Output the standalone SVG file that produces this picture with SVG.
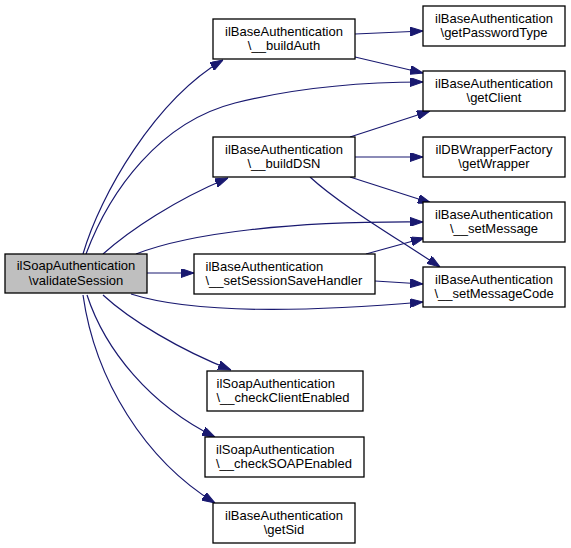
<svg xmlns="http://www.w3.org/2000/svg" width="571" height="548" viewBox="0 0 571 548">
<style>
.box{fill:#ffffff;stroke:#000000;stroke-width:1.3}
.main{fill:#bfbfbf;stroke:#000000;stroke-width:1.3}
.t{font-family:"Liberation Sans",Arial,sans-serif;font-size:13px;fill:#000000}
.c{text-anchor:middle}
.e{fill:none;stroke:#191970;stroke-width:1.2;marker-end:url(#ah)}
</style>
<defs>
<marker id="ah" markerUnits="userSpaceOnUse" markerWidth="13" markerHeight="9" viewBox="0 0 13 9" refX="13" refY="4.5" orient="auto">
<path d="M0,0 L13,4.5 L0,9 z" fill="#191970" stroke="#191970" stroke-width="1"/>
</marker>
</defs>
<rect width="571" height="548" fill="#ffffff"/>
<g id="connectors">
<path class="e" d="M83,254 C100,195 155,100 223,60"/>
<path class="e" d="M86,254 C110,190 160,122 235,103 C295,88 360,82 423,82"/>
<path class="e" d="M103,254 C130,230 175,200 228,178"/>
<path class="e" d="M136,254 C190,233 290,221 423,222"/>
<path class="e" d="M147,273 L194,273"/>
<path class="e" d="M131,294 C200,316 330,310 423,302"/>
<path class="e" d="M103,295 C130,320 180,350 231,370"/>
<path class="e" d="M87,295 C105,350 150,405 215,437"/>
<path class="e" d="M83,295 C95,380 145,460 215,503"/>
<path class="e" d="M355,34 L423,31"/>
<path class="e" d="M355,57 L423,73"/>
<path class="e" d="M350,137 L430,111"/>
<path class="e" d="M355,157 L423,157"/>
<path class="e" d="M350,177 L431,203"/>
<path class="e" d="M310,177 C340,205 400,240 440,267"/>
<path class="e" d="M366,254 L424,238"/>
<path class="e" d="M375,281 L423,284"/>
</g>
<g id="validateSession">
<rect class="main" x="5" y="254" width="142" height="39"/>
<text class="t c"><tspan x="76" y="270">ilSoapAuthentication</tspan><tspan x="76" y="284.5">\validateSession</tspan></text>
</g>
<g id="buildAuth">
<rect class="box" x="213" y="19" width="142" height="40"/>
<text class="t c"><tspan x="284" y="35.5">ilBaseAuthentication</tspan><tspan x="284" y="50">\__buildAuth</tspan></text>
</g>
<g id="getPasswordType">
<rect class="box" x="423" y="6" width="142" height="40"/>
<text class="t c"><tspan x="494" y="22.5">ilBaseAuthentication</tspan><tspan x="494" y="37">\getPasswordType</tspan></text>
</g>
<g id="getClient">
<rect class="box" x="423" y="71" width="142" height="40"/>
<text class="t c"><tspan x="494" y="87.5">ilBaseAuthentication</tspan><tspan x="494" y="102">\getClient</tspan></text>
</g>
<g id="buildDSN">
<rect class="box" x="213" y="137" width="142" height="40"/>
<text class="t c"><tspan x="284" y="153.5">ilBaseAuthentication</tspan><tspan x="284" y="168">\__buildDSN</tspan></text>
</g>
<g id="getWrapper">
<rect class="box" x="423" y="137" width="142" height="40"/>
<text class="t c"><tspan x="494" y="153.5">ilDBWrapperFactory</tspan><tspan x="494" y="168">\getWrapper</tspan></text>
</g>
<g id="setMessage">
<rect class="box" x="423" y="202" width="142" height="40"/>
<text class="t c"><tspan x="494" y="218.5">ilBaseAuthentication</tspan><tspan x="494" y="233">\__setMessage</tspan></text>
</g>
<g id="setSessionSaveHandler">
<rect class="box" x="194" y="254" width="181" height="40"/>
<text class="t"><tspan x="205.5" y="270.5">ilBaseAuthentication</tspan><tspan x="205.5" y="285">\__setSessionSaveHandler</tspan></text>
</g>
<g id="setMessageCode">
<rect class="box" x="423" y="267" width="142" height="40"/>
<text class="t c"><tspan x="494" y="283.5">ilBaseAuthentication</tspan><tspan x="494" y="298">\__setMessageCode</tspan></text>
</g>
<g id="checkClientEnabled">
<rect class="box" x="207" y="371" width="156" height="40"/>
<text class="t"><tspan x="216.5" y="387.5">ilSoapAuthentication</tspan><tspan x="216.5" y="402">\__checkClientEnabled</tspan></text>
</g>
<g id="checkSOAPEnabled">
<rect class="box" x="205" y="437" width="159" height="40"/>
<text class="t"><tspan x="216" y="453.5">ilSoapAuthentication</tspan><tspan x="216" y="468">\__checkSOAPEnabled</tspan></text>
</g>
<g id="getSid">
<rect class="box" x="213" y="503" width="142" height="40"/>
<text class="t c"><tspan x="284" y="519.5">ilBaseAuthentication</tspan><tspan x="284" y="534">\getSid</tspan></text>
</g>
</svg>
